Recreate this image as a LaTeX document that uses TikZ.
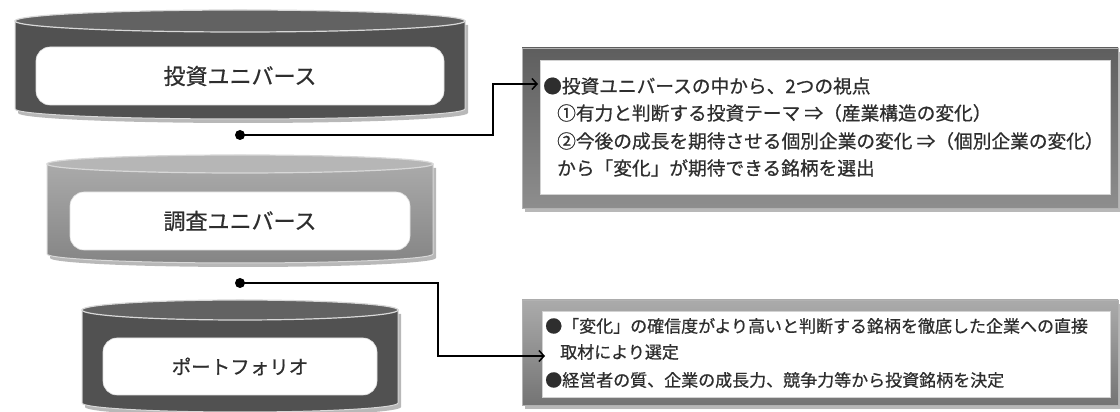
\documentclass[tikz,border=0pt]{standalone}
\usepackage{fontspec}
\setmainfont{Noto Sans CJK JP}[FakeBold=0.7]
\usetikzlibrary{arrows.meta,shadows}
\definecolor{cylA}{HTML}{515151}
\definecolor{cylAtop}{HTML}{626262}
\definecolor{cylBtop}{HTML}{B6B6B6}
\definecolor{cylBup}{HTML}{AAAAAA}
\definecolor{cylBlo}{HTML}{858585}
\definecolor{rim}{HTML}{D8D8D8}
\definecolor{txt}{HTML}{2E2E2E}
\definecolor{frAtop}{HTML}{5E5E5E}
\definecolor{frAbot}{HTML}{8E8E8E}
\definecolor{frBtop}{HTML}{ABABAB}
\definecolor{frBbot}{HTML}{747474}
\tikzset{
  shad/.style={drop shadow={shadow xshift=3pt,shadow yshift=-4pt,opacity=0.28,fill=black}},
  bodyA/.style={fill=cylA,draw=rim,line width=1pt,shad},
  topA/.style={fill=cylAtop,draw=rim,line width=1.2pt},
  bodyB/.style={top color=cylBup,bottom color=cylBlo,draw=rim,line width=1pt,shad},
  topB/.style={fill=cylBtop,draw=rim,line width=1.2pt},
  label/.style={fill=white,draw=gray!25,line width=0.6pt,rounded corners=14pt,inner sep=0pt,text=txt},
  frameA/.style={top color=frAtop,bottom color=frAbot,draw=gray!60,line width=0.6pt,inner sep=0pt,shad},
  frameB/.style={top color=frBtop,bottom color=frBbot,draw=gray!60,line width=0.6pt,inner sep=0pt,shad},
  paper/.style={fill=white,draw=gray!35,line width=0.6pt,inner sep=0pt},
  dot/.style={circle,fill=black,minimum size=10pt,inner sep=0pt},
  conn/.style={line width=1.5pt,-{Straight Barb[length=5pt,width=11pt,line width=1.5pt]}},
  line/.style={anchor=west,inner sep=0pt,text=txt}
}
\begin{document}
\begin{tikzpicture}[x=1pt,y=1pt]
\useasboundingbox (0,0) rectangle (1120,412);
\clip (0,0) rectangle (1120,412);
\fill[white] (0,0) rectangle (1120,412);

% cylinder 1
\path[bodyA] (15,391) -- (15,303) arc[start angle=180,end angle=360,x radius=225,y radius=10] -- (465,391) -- cycle;
\path[topA] (240,391) ellipse[x radius=225,y radius=11];
\node[label,minimum width=408pt,minimum height=58pt,font=\fontsize{22}{24}\selectfont] (u1) at (240,336) {投資ユニバース};

% cylinder 2
\path[bodyB] (47,248) -- (47,158) arc[start angle=180,end angle=360,x radius=193,y radius=9] -- (433,248) -- cycle;
\path[topB] (240,248) ellipse[x radius=193,y radius=9];
\node[label,minimum width=340pt,minimum height=58pt,font=\fontsize{22}{24}\selectfont] (u2) at (240,191) {調査ユニバース};

% cylinder 3
\path[bodyA] (82,102) -- (82,9) arc[start angle=180,end angle=360,x radius=158,y radius=9] -- (398,102) -- cycle;
\path[topA] (240,102) ellipse[x radius=158,y radius=10];
\node[label,minimum width=274pt,minimum height=57pt,font=\fontsize{19.5}{22}\selectfont] (u3) at (240,45.5) {ポートフォリオ};

% box 1
\node[frameA,minimum width=596pt,minimum height=160pt] (f1) at (820,284) {};
\node[paper,minimum width=570pt,minimum height=134pt] (p1) at (825,285) {};
\begin{scope}[font=\fontsize{18.7}{20}\selectfont]
\node[line] (t11) at (543,326) {●投資ユニバースの中から、2つの視点};
\node[line] (t12) at (557,299) {①有力と判断する投資テーマ ⇒（産業構造の変化）};
\node[line] (t13) at (557,271) {②今後の成長を期待させる個別企業の変化 ⇒（個別企業の変化）};
\node[line] (t14) at (557,244) {から「変化」が期待できる銘柄を選出};
\end{scope}

% box 2
\node[frameB,minimum width=596pt,minimum height=105pt] (f2) at (820,59.5) {};
\node[paper,minimum width=568pt,minimum height=86pt] (p2) at (826,58) {};
\begin{scope}[font=\fontsize{17}{19}\selectfont]
\node[line] (t21) at (545,86) {●「変化」の確信度がより高いと判断する銘柄を徹底した企業への直接};
\node[line] (t22) at (560,60) {取材により選定};
\node[line] (t23) at (545,32) {●経営者の質、企業の成長力、競争力等から投資銘柄を決定};
\end{scope}

% connectors
\node[dot] (d1) at (240,277) {};
\node[dot] (d2) at (240,129) {};
\coordinate (k1) at (493,328);
\coordinate (a1) at (538,328);
\coordinate (k2) at (438,56);
\coordinate (a2) at (545,56);
\draw[conn] (d1.center) -| (k1) -- (a1);
\draw[conn] (d2.center) -| (k2) -- (a2);
\end{tikzpicture}
\end{document}
